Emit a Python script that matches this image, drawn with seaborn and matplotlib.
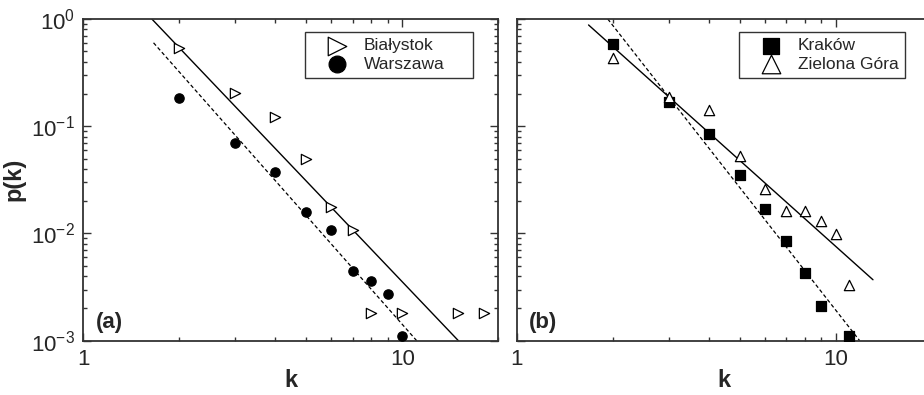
import matplotlib
matplotlib.use('Agg')
import matplotlib.pyplot as plt
import matplotlib.ticker as mticker
import seaborn as sns
import numpy as np

# panel (a)
k_bialystok = [2, 3, 4, 5, 6, 7, 8, 10, 15, 18]
p_bialystok = [0.54, 0.203, 0.123, 0.049, 0.0177, 0.0107, 0.0018, 0.0018, 0.0018, 0.0018]
k_warszawa = [2, 3, 4, 5, 6, 7, 8, 9, 10]
p_warszawa = [0.182, 0.070, 0.0374, 0.016, 0.0107, 0.0045, 0.0036, 0.0027, 0.0011]
fit_a_solid_k = [1.64, 15.0]
fit_a_solid_p = [1.0, 1e-3]
fit_a_dash_k = [1.66, 11.1]
fit_a_dash_p = [0.60, 1e-3]

# panel (b)
k_krakow = [2, 3, 4, 5, 6, 7, 8, 9, 11]
p_krakow = [0.59, 0.167, 0.085, 0.035, 0.0169, 0.0085, 0.0043, 0.0021, 0.0011]
k_zielona = [2, 3, 4, 5, 6, 7, 8, 9, 10, 11]
p_zielona = [0.43, 0.188, 0.142, 0.0527, 0.026, 0.0163, 0.0163, 0.0131, 0.0098, 0.0033]
fit_b_solid_k = [1.68, 13.1]
fit_b_solid_p = [0.88, 0.0037]
fit_b_dash_k = [1.93, 11.9]
fit_b_dash_p = [1.0, 1e-3]

sns.set_theme(style='ticks')
plt.rcParams['font.family'] = ['Liberation Sans', 'DejaVu Sans']
plt.rcParams['mathtext.fontset'] = 'custom'
plt.rcParams['mathtext.rm'] = 'Liberation Sans'
plt.rcParams['mathtext.it'] = 'Liberation Sans:italic'
plt.rcParams['mathtext.bf'] = 'Liberation Sans:bold'
plt.rcParams['axes.unicode_minus'] = False

fig = plt.figure(figsize=(9.24, 3.95), dpi=100)
ax_a = fig.add_axes([0.0902, 0.1375, 0.449, 0.8144])
ax_b = fig.add_axes([0.5592, 0.1375, 0.449, 0.8144])


def style_axis(ax, show_ylabels):
    ax.set_xscale('log')
    ax.set_yscale('log')
    ax.set_xlim(1, 20)
    ax.set_ylim(1e-3, 1)
    for sp in ax.spines.values():
        sp.set_visible(True)
        sp.set_linewidth(1.3)
        sp.set_color('#333333')
    ax.xaxis.set_major_locator(mticker.LogLocator(base=10))
    ax.xaxis.set_minor_locator(mticker.LogLocator(base=10, subs=np.arange(2, 10)))
    ax.xaxis.set_minor_formatter(mticker.NullFormatter())
    ax.xaxis.set_major_formatter(mticker.FuncFormatter(lambda v, p: f'{v:g}'))
    ax.yaxis.set_minor_locator(mticker.LogLocator(base=10, subs=np.arange(2, 10)))
    ax.yaxis.set_minor_formatter(mticker.NullFormatter())
    ax.tick_params(which='both', direction='in', top=True, right=True,
                   color='#333333', width=1)
    ax.tick_params(which='major', length=6, labelsize=16, pad=6)
    ax.tick_params(which='minor', length=3)
    if not show_ylabels:
        ax.tick_params(axis='y', labelleft=False)
    ax.set_xlabel('k', fontsize=17, fontweight='bold', labelpad=-1)


def draw_points(ax, k, p, marker, filled, label, size):
    sns.scatterplot(x=k, y=p, ax=ax, marker=marker, s=size,
                    color='black' if filled else 'white',
                    edgecolor='black', linewidth=0.9, label=label, zorder=3)


# (a)
sns.lineplot(x=fit_a_solid_k, y=fit_a_solid_p, ax=ax_a, color='black', lw=1)
sns.lineplot(x=fit_a_dash_k, y=fit_a_dash_p, ax=ax_a, color='black', lw=0.9,
             linestyle=(0, (3, 2)))
draw_points(ax_a, k_bialystok, p_bialystok, '>', False, 'Białystok', 55)
draw_points(ax_a, k_warszawa, p_warszawa, 'o', True, 'Warszawa', 45)
style_axis(ax_a, True)
ax_a.set_ylabel('p(k)', fontsize=17, fontweight='bold', labelpad=4)
ax_a.text(0.03, 0.055, '(a)', transform=ax_a.transAxes, fontsize=16,
          fontweight='bold', va='center', ha='left')

# (b)
sns.lineplot(x=fit_b_solid_k, y=fit_b_solid_p, ax=ax_b, color='black', lw=1)
sns.lineplot(x=fit_b_dash_k, y=fit_b_dash_p, ax=ax_b, color='black', lw=0.9,
             linestyle=(0, (3, 2)))
draw_points(ax_b, k_krakow, p_krakow, 's', True, 'Kraków', 42)
draw_points(ax_b, k_zielona, p_zielona, '^', False, 'Zielona Góra', 55)
style_axis(ax_b, False)
ax_b.set_ylabel('')
ax_b.text(0.03, 0.055, '(b)', transform=ax_b.transAxes, fontsize=16,
          fontweight='bold', va='center', ha='left')

# legend boxes stretched to the reference width
for ax, box in [(ax_a, (0.535, 0.81, 0.405, 0.15)),
                (ax_b, (0.537, 0.81, 0.398, 0.15))]:
    leg = ax.legend(loc='upper left', bbox_to_anchor=box, mode='expand',
                    fontsize=12.5, markerscale=1.8, frameon=True, fancybox=False,
                    borderpad=0.35, labelspacing=0.2, handletextpad=0.1,
                    handlelength=2.9, borderaxespad=0)
    leg.get_frame().set_edgecolor('black')
    leg.get_frame().set_linewidth(1)

fig.savefig('out.png', dpi=100)
